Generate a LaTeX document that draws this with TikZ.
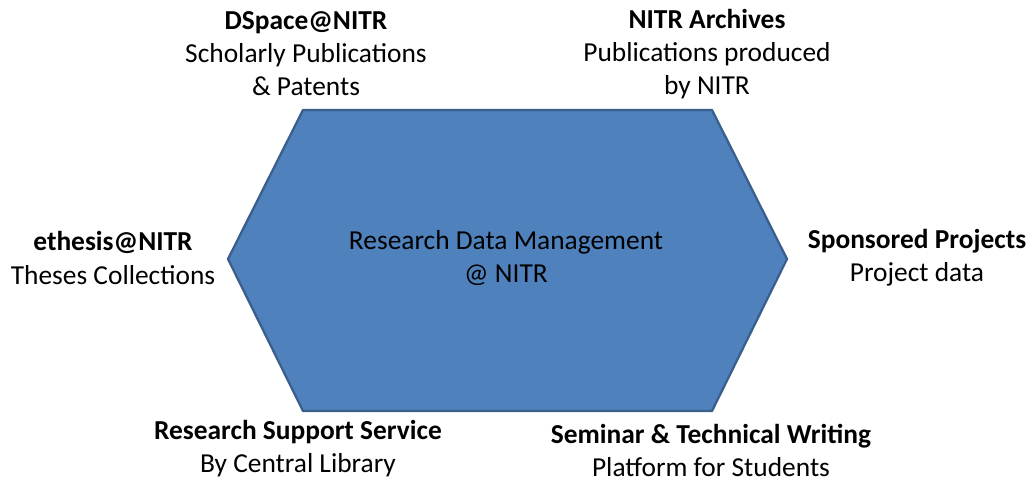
\documentclass[tikz,border=0pt]{standalone}
\usepackage{fontspec}
\setmainfont{Carlito}
\usetikzlibrary{positioning}
\definecolor{hexfill}{HTML}{4F81BD}
\definecolor{hexline}{HTML}{3A5F8C}
\tikzset{hexagon/.style={
            draw=hexline,
            fill=hexfill,
            line width=1.3pt,
            line join=round
        },
        label/.style={
            align=center,
            inner sep=0pt,
            font=\fontsize{15.6}{18.8}\selectfont
        }
    }

\begin{document}
\begin{tikzpicture}[x=0.02cm,y=-0.02cm]
\useasboundingbox (0,0) rectangle (1030,479);
\filldraw[hexagon](303,110)--(712,110)--(787,259)--(712,411)--(303,411)--(228,259)--cycle;
\node[label] (rdm) at (506,258) {Research Data Management\\@ NITR};
\node[label] (dspace) at (306,54) {\textbf{DSpace@NITR}\\Scholarly Publications\\\& Patents};
\node[label] (archives) at (707,54) {\textbf{NITR Archives}\\Publications produced\\by NITR};
\node[label] (ethesis) at (113,258) {\textbf{ethesis@NITR}\\Theses Collections};
\node[label] (sponsored) at (917,258) {\textbf{Sponsored Projects}\\Project data};
\node[label] (support) at (298,449) {\textbf{Research Support Service}\\By Central Library};
\node[label] (seminar) at (711,450) {\textbf{Seminar \& Technical Writing}\\Platform for Students};
\end{tikzpicture}
\end{document}
